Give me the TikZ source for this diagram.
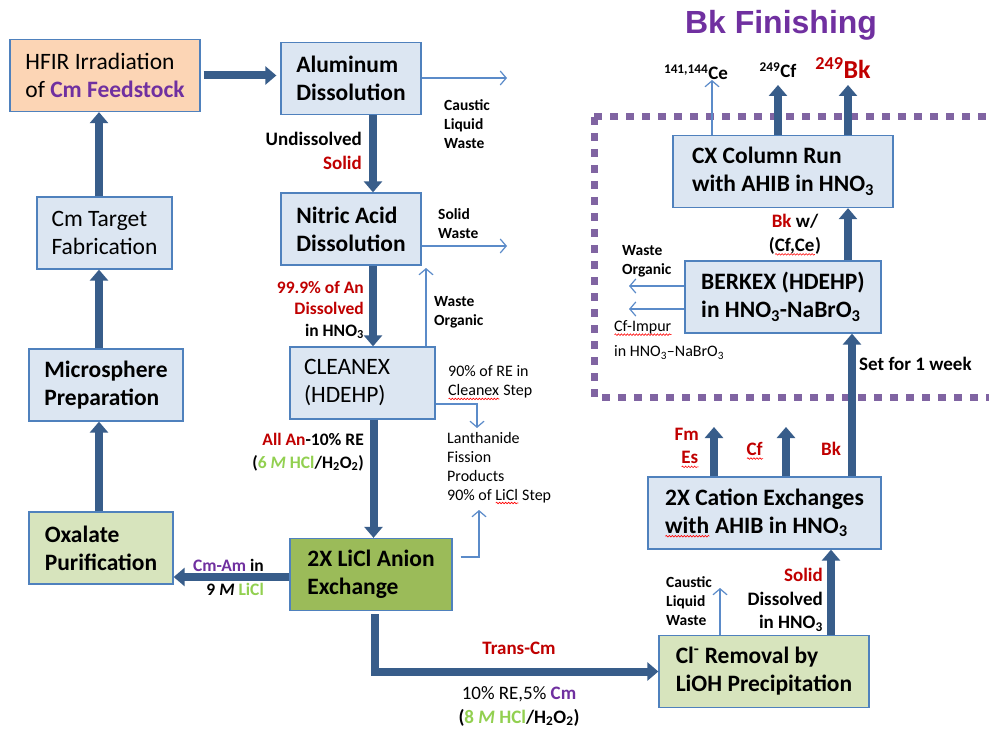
\documentclass[tikz,border=0pt]{standalone}
\usepackage{fontspec}
\setmainfont{Carlito}
\newfontfamily\titlefont{Liberation Sans}
\usetikzlibrary{arrows.meta,decorations.pathmorphing}
\definecolor{boxfill}{HTML}{DCE6F2}
\definecolor{boxline}{HTML}{4F81BD}
\definecolor{orangefill}{HTML}{FCD5B5}
\definecolor{palegreen}{HTML}{D7E4BD}
\definecolor{olivefill}{HTML}{9BBB59}
\definecolor{flowblue}{HTML}{385D8A}
\definecolor{thinblue}{HTML}{5B8BC9}
\definecolor{darkred}{HTML}{C00000}
\definecolor{cmpurple}{HTML}{7030A0}
\definecolor{limegreen}{HTML}{92D050}
\definecolor{framepurple}{HTML}{8064A2}
% red wavy spelling mark under a word
\newlength{\spellwd}
\newcommand{\spellmark}[1]{\settowidth{\spellwd}{#1}\rlap{#1}\tikz[baseline=0pt]\draw[red,line width=0.6pt,decorate,decoration={snake,amplitude=0.8pt,segment length=3pt}] (0pt,-3pt) -- (\spellwd,-3pt);}
\begin{document}
\begin{tikzpicture}[x=1pt,y=-1pt,
	procbox/.style={draw=boxline,line width=1.3pt,fill=boxfill,align=left,minimum height=72pt,font=\fontsize{23.5}{28}\selectfont},
	boldbox/.style={procbox,font=\bfseries\fontsize{23.5}{28}\selectfont},
	midtext/.style={font=\bfseries\fontsize{19}{23.5}\selectfont,inner sep=0pt},
	smalltext/.style={font=\bfseries\fontsize{15.5}{19}\selectfont,inner sep=0pt,align=left},
	notetext/.style={font=\fontsize{16}{19}\selectfont,inner sep=0pt,align=left},
	bigarrow/.style={draw=flowblue,line width=8pt,-{Triangle[length=11pt,width=18pt]}},
	thinarrow/.style={draw=thinblue,line width=1.2pt,-{Straight Barb[length=6pt,width=14pt]}}]
	\fill[white] (0,0) rectangle (989,733);
	\useasboundingbox (0,0) rectangle (989,733);
	% Bk finishing frame
	\draw[framepurple,line width=7pt,dash pattern=on 8pt off 8pt] (594,117) -- (995,117);
	\draw[framepurple,line width=7pt,dash pattern=on 8pt off 8pt] (594,117) -- (594,397) -- (995,397);
	\node[font=\titlefont\bfseries\fontsize{32}{38}\selectfont,text=cmpurple] (title) at (781,25) {Bk Finishing};
	% process boxes
	\node[procbox,fill=orangefill,minimum width=190pt] (hfir) at (105,75.5) {HFIR Irradiation\\of \textcolor{cmpurple}{\bfseries Cm Feedstock}};
	\node[boldbox,minimum width=140pt] (alum) at (351,78.5) {Aluminum\\Dissolution};
	\node[procbox,minimum width=135pt] (target) at (104.5,233) {Cm Target\\Fabrication};
	\node[boldbox,minimum width=140pt] (nitric) at (351,229) {Nitric Acid\\Dissolution};
	\node[boldbox,minimum width=154pt] (micro) at (106,385) {Microsphere\\Preparation};
	\node[procbox,text width=117pt,inner xsep=14pt] (cleanex) at (362.5,383) {CLEANEX\\(HDEHP)};
	\node[boldbox,fill=palegreen,minimum width=144pt] (oxalate) at (101,548) {Oxalate\\Purification};
	\node[boldbox,fill=olivefill,minimum width=162pt] (licl) at (371,574.5) {2X LiCl Anion\\Exchange};
	\node[boldbox,fill=palegreen,minimum width=210pt] (clrem) at (764,671.5) {Cl\textsuperscript{-} Removal by\\LiOH Precipitation};
	\node[boldbox,minimum width=233pt] (cation) at (764.5,513) {2X Cation Exchanges\\\spellmark{with} AHIB in HNO\textsubscript{3}};
	\node[boldbox,minimum width=196pt] (berkex) at (783,297) {BERKEX (HDEHP)\\in HNO\textsubscript{3}-NaBrO\textsubscript{3}};
	\node[boldbox,minimum width=220pt] (cxcol) at (783,171.5) {CX Column Run\\with AHIB in HNO\textsubscript{3}};
	% main flow
	\draw[bigarrow] ([xshift=3pt]hfir.east) -- ([xshift=-4pt]hfir.east -| alum.west);
	\draw[bigarrow] ([xshift=22pt]alum.south) -- ([xshift=22pt]alum.south |- nitric.north);
	\draw[bigarrow] ([xshift=22pt]nitric.south) -- ([xshift=22pt]nitric.south |- cleanex.north);
	\draw[bigarrow] ([xshift=11pt]cleanex.south) -- ([xshift=11pt]cleanex.south |- licl.north);
	\draw[bigarrow] ([xshift=4pt,yshift=-3pt]licl.south) |- (clrem.west);
	\draw[bigarrow] ([yshift=-2.5pt]licl.west) -- ([yshift=-2.5pt]licl.west -| oxalate.east);
	\draw[bigarrow] ([xshift=-2pt]oxalate.north) -- ([xshift=-2pt]oxalate.north |- micro.south);
	\draw[bigarrow] ([xshift=-7pt]micro.north) -- ([xshift=-7pt]micro.north |- target.south);
	\draw[bigarrow] ([xshift=-5.5pt]target.north) -- ([xshift=-5.5pt]target.north |- hfir.south);
	\draw[bigarrow] ([xshift=67pt]clrem.north) -- ([xshift=67pt]clrem.north |- cation.south);
	\draw[bigarrow] ([xshift=87.5pt]cation.north) -- ([xshift=87.5pt]cation.north |- berkex.south);
	\draw[bigarrow] ([xshift=65pt]berkex.north) -- ([xshift=65pt]berkex.north |- cxcol.south);
	% products
	\coordinate (bkend) at (848,85);
	\coordinate (cfend) at (778,85);
	\coordinate (ceend) at (712,80);
	\coordinate (fmend) at (714,427);
	\coordinate (cfmid) at (786,427);
	\draw[bigarrow] (cxcol.north -| bkend) -- (bkend);
	\draw[bigarrow] (cxcol.north -| cfend) -- (cfend);
	\draw[thinarrow] (cxcol.north -| ceend) -- (ceend);
	\draw[bigarrow] (cation.north -| fmend) -- (fmend);
	\draw[bigarrow] (cation.north -| cfmid) -- (cfmid);
	% waste streams
	\coordinate (alumout) at (507,78);
	\coordinate (nitricout) at (507,246);
	\coordinate (orgtip) at (426,268);
	\coordinate (lanthtip) at (477,428);
	\coordinate (liclout) at (479,510);
	\coordinate (wastetip) at (629,286);
	\coordinate (impurtip) at (629,309);
	\coordinate (causttip) at (720,588);
	\draw[thinarrow] (alum.east |- alumout) -- (alumout);
	\draw[thinarrow] (nitric.east |- nitricout) -- (nitricout);
	\draw[thinarrow] (cleanex.north -| orgtip) -- (orgtip);
	\draw[thinarrow] ([yshift=-21pt]cleanex.east) -| (lanthtip);
	\draw[thinarrow] ([xshift=8pt,yshift=17.5pt]licl.east) -| (liclout);
	\draw[thinarrow] (berkex.west |- wastetip) -- (wastetip);
	\draw[thinarrow] (berkex.west |- impurtip) -- (impurtip);
	\draw[thinarrow] (clrem.north -| causttip) -- (causttip);
	% labels, left part
	\node[smalltext,anchor=west] (caustA) at (444,124) {Caustic\\Liquid\\Waste};
	\node[midtext,align=right,anchor=east] (undis) at (362,151) {Undissolved\\\textcolor{darkred}{Solid}};
	\node[smalltext,anchor=west] (solidw) at (438,224) {Solid\\Waste};
	\node[midtext,align=right,anchor=east,font=\bfseries\fontsize{17.5}{21.5}\selectfont] (dissan) at (364,310) {\textcolor{darkred}{99.9\% of An}\\\textcolor{darkred}{Dissolved}\\in HNO\textsubscript{3}};
	\node[smalltext,anchor=west] (worgA) at (434,312) {Waste\\Organic};
	\node[notetext,anchor=west] (rein) at (448,383) {90\% of RE in\\\spellmark{Cleanex} Step};
	\node[notetext,anchor=west] (lanth) at (447,468) {Lanthanide\\Fission\\Products\\90\% of \spellmark{LiCl} Step};
	\node[midtext,align=right,anchor=east,font=\bfseries\fontsize{17.5}{23}\selectfont] (allan) at (364,452) {\textcolor{darkred}{All An}-10\% RE\\(\textcolor{limegreen}{6 \textit{M} HCl}/H\textsubscript{2}O\textsubscript{2})};
	\node[midtext,align=right,anchor=east,font=\bfseries\fontsize{17.5}{24}\selectfont] (cmam) at (264,577) {\textcolor{cmpurple}{Cm-Am} in\\9 \textit{M} \textcolor{limegreen}{LiCl}};
	\node[midtext,text=darkred] (transcm) at (519,648) {Trans-Cm};
	\node[font=\fontsize{19}{24}\selectfont,inner sep=0pt,align=center] (tenre) at (519,706) {10\% RE,5\% \textcolor{cmpurple}{\bfseries Cm}\\\textbf{(\textcolor{limegreen}{8 \textit{M} HCl}/H\textsubscript{2}O\textsubscript{2})}};
	% labels, Bk finishing
	\node[font=\bfseries\fontsize{19}{23}\selectfont,inner sep=0pt] (celab) at (696,72) {\textsuperscript{141,144}Ce};
	\node[font=\bfseries\fontsize{19}{23}\selectfont,inner sep=0pt] (cflab) at (778,70) {\textsuperscript{249}Cf};
	\node[font=\bfseries\fontsize{26}{30}\selectfont,text=darkred,inner sep=0pt] (bklab) at (843,68) {\textsuperscript{249}Bk};
	\node[midtext,align=center] (bkw) at (795,235) {\textcolor{darkred}{Bk} w/\\(\spellmark{Cf,Ce})};
	\node[smalltext,anchor=west] (worgB) at (622,261) {Waste\\Organic};
	\node[notetext,anchor=west,font=\fontsize{16}{25}\selectfont] (impur) at (614,340) {\spellmark{Cf-Impur}\\in HNO\textsubscript{3}--NaBrO\textsubscript{3}};
	\node[midtext,anchor=west] (week) at (859,364) {Set for 1 week};
	\node[midtext,align=right,anchor=east,text=darkred] (fmes) at (699,448) {Fm\\\spellmark{Es}};
	\node[midtext,text=darkred] (cflab2) at (755,451) {\spellmark{Cf}};
	\node[midtext,text=darkred] (bklab2) at (831,449) {Bk};
	\node[midtext,align=right,anchor=east] (solidB) at (823,600) {\textcolor{darkred}{Solid}\\Dissolved\\in HNO\textsubscript{3}};
	\node[smalltext,anchor=west] (caustB) at (666,601) {Caustic\\Liquid\\Waste};
\end{tikzpicture}
\end{document}
